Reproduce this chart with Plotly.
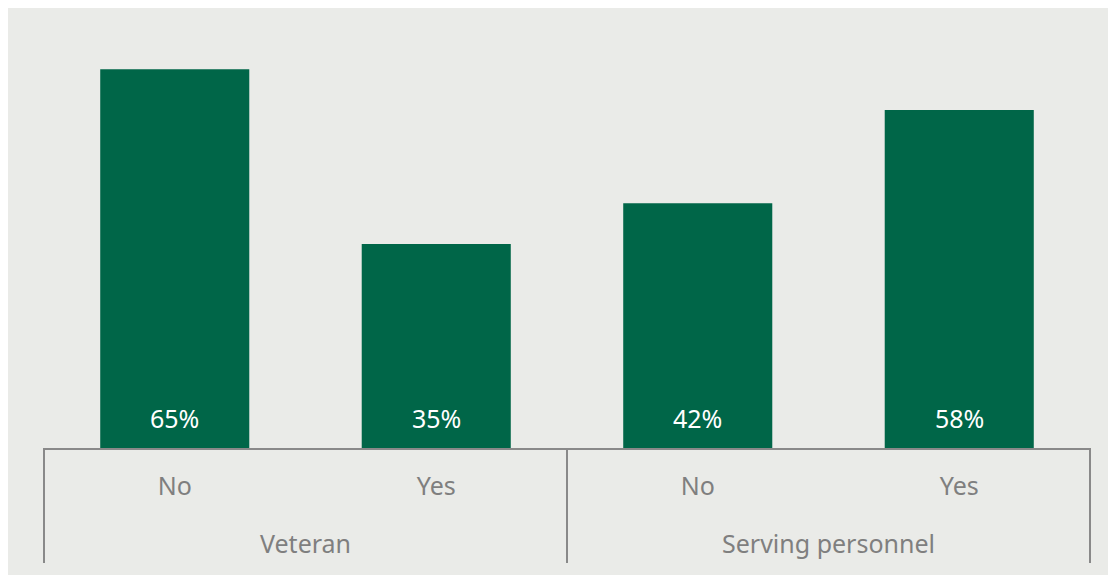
import plotly.graph_objects as go

groups = ["Veteran", "Veteran", "Serving personnel", "Serving personnel"]
answers = ["No", "Yes", "No", "Yes"]
values = [65, 35, 42, 58]
labels = [f"{v}%" for v in values]
group_names = ["Veteran", "Serving personnel"]

BAR = "#006648"
BG = "#EAEBE8"
AX = "#898989"
TXT = "#7F7F7F"
FONT = "Noto Sans"

keys = [f"{g}|{a}" for g, a in zip(groups, answers)]

fig = go.Figure()
fig.add_trace(go.Bar(
    x=keys, y=values,
    marker=dict(color=BAR, line=dict(width=0)),
    width=0.57,
    hoverinfo="skip",
))

# value labels near bar base
for k, t in zip(keys, labels):
    fig.add_annotation(x=k, y=0, xref="x", yref="y", text=t, showarrow=False,
                       yanchor="middle", yshift=30,
                       font=dict(color="white", size=25, family=FONT))

# group labels, centred under each pair of categories
for i, g in enumerate(group_names):
    idx = [j for j, gg in enumerate(groups) if gg == g]
    fig.add_annotation(x=sum(idx) / len(idx), y=0, xref="x", yref="paper",
                       text=g, showarrow=False, yanchor="middle", yshift=-95,
                       font=dict(color=TXT, size=25, family=FONT))

# group dividers
bounds = [-0.5]
for j in range(1, len(groups)):
    if groups[j] != groups[j - 1]:
        bounds.append(j - 0.5)
bounds.append(len(groups) - 0.5)
for b in bounds:
    fig.add_shape(type="line", xref="x", yref="paper", x0=b, x1=b,
                  ysizemode="pixel", yanchor=0, y0=0, y1=-115,
                  line=dict(color=AX, width=2))

fig.update_layout(
    width=1116, height=575,
    margin=dict(l=35, r=33, t=32, b=135),
    paper_bgcolor=BG, plot_bgcolor=BG,
    showlegend=False,
    font=dict(family=FONT, size=25, color=TXT),
    xaxis=dict(type="category", showline=True, linecolor=AX, linewidth=2,
               tickvals=keys, ticktext=answers, ticks="",
               ticklabelstandoff=15, showgrid=False,
               tickfont=dict(size=25, color=TXT, family=FONT)),
    yaxis=dict(range=[0, 70], visible=False, showgrid=False, zeroline=False),
)
fig.write_html("out.html")
